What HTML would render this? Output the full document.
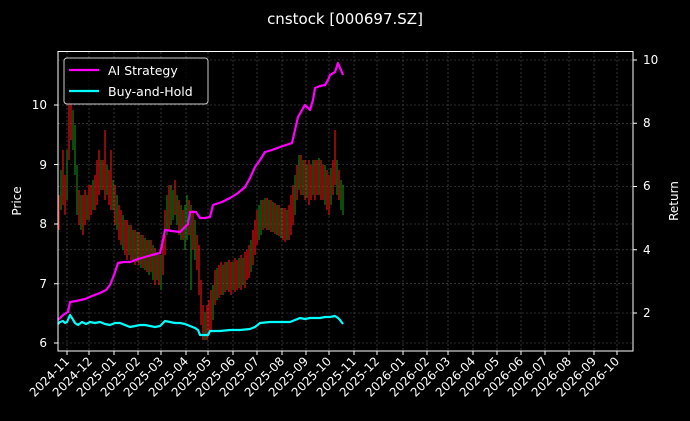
<!DOCTYPE html>
<html><head><meta charset="utf-8"><style>
html,body{margin:0;padding:0;background:#000;}
svg{display:block;font-family:"DejaVu Sans","Liberation Sans",sans-serif;}
</style></head><body>
<svg width="690" height="421" viewBox="0 0 690 421" xmlns="http://www.w3.org/2000/svg">
<rect width="690" height="421" fill="#000"/>
<g stroke="#555" stroke-width="0.6" stroke-dasharray="2,2">
<path d="M67,52V351M89,52V351M114,52V351M138,52V351M161,52V351M186,52V351M208,52V351M233,52V351M257,52V351M282,52V351M306,52V351M329,52V351M354,52V351M377,52V351M403,52V351M427,52V351M448,52V351M473,52V351M497,52V351M521,52V351M545,52V351M569,52V351M594,52V351M617,52V351"/>
<path d="M58,105H633M58,164.5H633M58,224H633M58,283.7H633M58,343H633M58,60H633M58,123.3H633M58,186.5H633M58,249.8H633M58,313H633"/>
</g>
<path fill="none" stroke="#e01010" stroke-width="1.2" d="M59,195V230M63,150V205M65,175V215M69,100V160M71,105V140M79,190V225M83,195V235M85,190V225M89,185V220M91,185V215M95,175V210M97,160V205M99,150V195M103,160V190M105,130V200M109,170V205M111,150V210M115,185V225M119,205V240M121,210V245M125,220V255M127,220V260M131,225V260M135,230V265M139,232V265M143,235V268M147,240V272M151,240V272M155,248V285M159,255V285M163,235V275M165,210V255M169,185V230M175,180V215M179,200V235M183,210V240M189,200V235M193,210V250M197,235V270M199,245V295M201,280V325M203,305V340M207,305V340M209,300V335M211,290V330M215,270V305M219,265V298M221,262V295M225,262V292M229,260V292M231,262V295M235,258V292M237,260V290M241,255V290M245,252V288M247,250V280M249,245V278M253,230V265M255,220V255M257,210V245M263,200V230M267,198V230M271,200V232M275,203V234M279,205V236M283,208V240M285,208V242M289,205V240M291,195V235M293,185V225M297,165V200M301,155V195M305,160V200M309,160V205M311,165V200M315,160V200M317,160V195M321,160V200M323,165V200M327,170V210M329,175V215M333,160V195M335,130V185M339,170V200"/>
<path fill="none" stroke="#108010" stroke-width="1.2" d="M61,170V210M67,150V200M73,110V150M75,125V175M77,165V215M81,195V230M87,195V220M93,180V210M101,160V190M107,165V195M113,180V210M117,195V230M123,215V250M129,225V255M133,230V262M137,232V262M141,235V268M145,238V270M149,240V275M153,245V280M157,252V280M161,255V290M167,195V235M171,185V225M173,190V220M177,195V225M181,205V240M185,205V250M187,195V240M191,205V290M195,220V260M205,312V340M213,285V320M217,268V300M223,265V295M227,262V290M233,262V290M239,258V288M243,258V285M251,240V272M259,205V240M261,200V235M265,198V228M269,200V230M273,202V232M277,205V235M281,208V238M287,210V240M295,175V215M299,155V190M303,160V195M307,165V198M313,160V195M319,158V195M325,165V205M331,168V205M337,160V195M341,180V210M343,185V215"/>
<polyline fill="none" stroke="#ff00ff" stroke-width="2.2" stroke-linejoin="round" points="58,320 62,316 66,313 68,312 70,302 76,301 85,299 92,296 100,293 106,290 110,285 114,275 118,263 124,262 130,262 138,259 145,257 152,255 160,253 163,240 165,230 172,231 180,232 186,226 188,224 190,212 196,212 200,218 205,218 210,217 213,205 222,202 230,198 238,193 245,187 250,178 255,167 260,160 265,152 272,150 280,147 286,145 292,143 295,130 298,117 302,110 305,105 310,110 313,100 315,88 320,86 325,85 328,80 330,75 335,72 337,66 338,63 340,68 341,70 343,75"/>
<polyline fill="none" stroke="#00ffff" stroke-width="2.2" stroke-linejoin="round" points="58,324 60,322 63,321 65,323 67,322 70,315 72,318 75,323 78,325 82,322 86,324 90,322 95,323 100,322 105,324 110,325 115,323 120,323 125,325 130,327 135,326 140,325 145,325 150,326 155,327 160,326 165,321 170,322 175,323 180,323 185,324 190,326 195,328 198,330 200,335 204,335 208,335 210,331 220,331 230,330 240,330 250,329 255,327 260,323 270,322 280,322 290,322 295,320 300,318 305,319 310,318 315,318 320,318 325,317 330,317 335,316 338,318 340,320 343,324"/>
<rect x="58" y="51.5" width="575" height="299.5" fill="none" stroke="#fff" stroke-width="1"/>
<g stroke="#fff" stroke-width="1">
<path d="M67,351V355M89,351V355M114,351V355M138,351V355M161,351V355M186,351V355M208,351V355M233,351V355M257,351V355M282,351V355M306,351V355M329,351V355M354,351V355M377,351V355M403,351V355M427,351V355M448,351V355M473,351V355M497,351V355M521,351V355M545,351V355M569,351V355M594,351V355M617,351V355"/>
<path d="M54,105H58M54,164.5H58M54,224H58M54,283.7H58M54,343H58M633,60H637M633,123.3H637M633,186.5H637M633,249.8H637M633,313H637"/>
</g>
<text x="345" y="24" fill="#fff" font-size="15" text-anchor="middle">cnstock [000697.SZ]</text>
<g fill="#fff" font-size="12" text-anchor="end">
<text x="47" y="109">10</text><text x="47" y="169">9</text><text x="47" y="228">8</text><text x="47" y="288">7</text><text x="47" y="347">6</text>
</g>
<g fill="#fff" font-size="12">
<text x="643" y="64">10</text><text x="643" y="127">8</text><text x="643" y="190">6</text><text x="643" y="254">4</text><text x="643" y="317">2</text>
</g>
<text transform="translate(21,201) rotate(-90)" fill="#fff" font-size="12" text-anchor="middle">Price</text>
<text transform="translate(678,201) rotate(-90)" fill="#fff" font-size="12" text-anchor="middle">Return</text>
<g fill="#fff" font-size="12" text-anchor="end">
<text transform="translate(70,362) rotate(-45)">2024-11</text>
<text transform="translate(93,362) rotate(-45)">2024-12</text>
<text transform="translate(117,362) rotate(-45)">2025-01</text>
<text transform="translate(141,362) rotate(-45)">2025-02</text>
<text transform="translate(164,362) rotate(-45)">2025-03</text>
<text transform="translate(189,362) rotate(-45)">2025-04</text>
<text transform="translate(212,362) rotate(-45)">2025-05</text>
<text transform="translate(236,362) rotate(-45)">2025-06</text>
<text transform="translate(260,362) rotate(-45)">2025-07</text>
<text transform="translate(285,362) rotate(-45)">2025-08</text>
<text transform="translate(309,362) rotate(-45)">2025-09</text>
<text transform="translate(332,362) rotate(-45)">2025-10</text>
<text transform="translate(357,362) rotate(-45)">2025-11</text>
<text transform="translate(380,362) rotate(-45)">2025-12</text>
<text transform="translate(406,362) rotate(-45)">2026-01</text>
<text transform="translate(430,362) rotate(-45)">2026-02</text>
<text transform="translate(451,362) rotate(-45)">2026-03</text>
<text transform="translate(476,362) rotate(-45)">2026-04</text>
<text transform="translate(500,362) rotate(-45)">2026-05</text>
<text transform="translate(524,362) rotate(-45)">2026-06</text>
<text transform="translate(548,362) rotate(-45)">2026-07</text>
<text transform="translate(572,362) rotate(-45)">2026-08</text>
<text transform="translate(597,362) rotate(-45)">2026-09</text>
<text transform="translate(620,362) rotate(-45)">2026-10</text>
</g>
<rect x="64" y="58" width="144" height="46" rx="3" fill="#000" fill-opacity="0.8" stroke="#ccc" stroke-width="1"/>
<line x1="69" y1="70" x2="99" y2="70" stroke="#ff00ff" stroke-width="2.2"/>
<line x1="69" y1="91" x2="99" y2="91" stroke="#00ffff" stroke-width="2.2"/>
<text x="108" y="75" fill="#fff" font-size="12.5">AI Strategy</text>
<text x="108" y="96" fill="#fff" font-size="12.5">Buy-and-Hold</text>
</svg>
</body></html>
